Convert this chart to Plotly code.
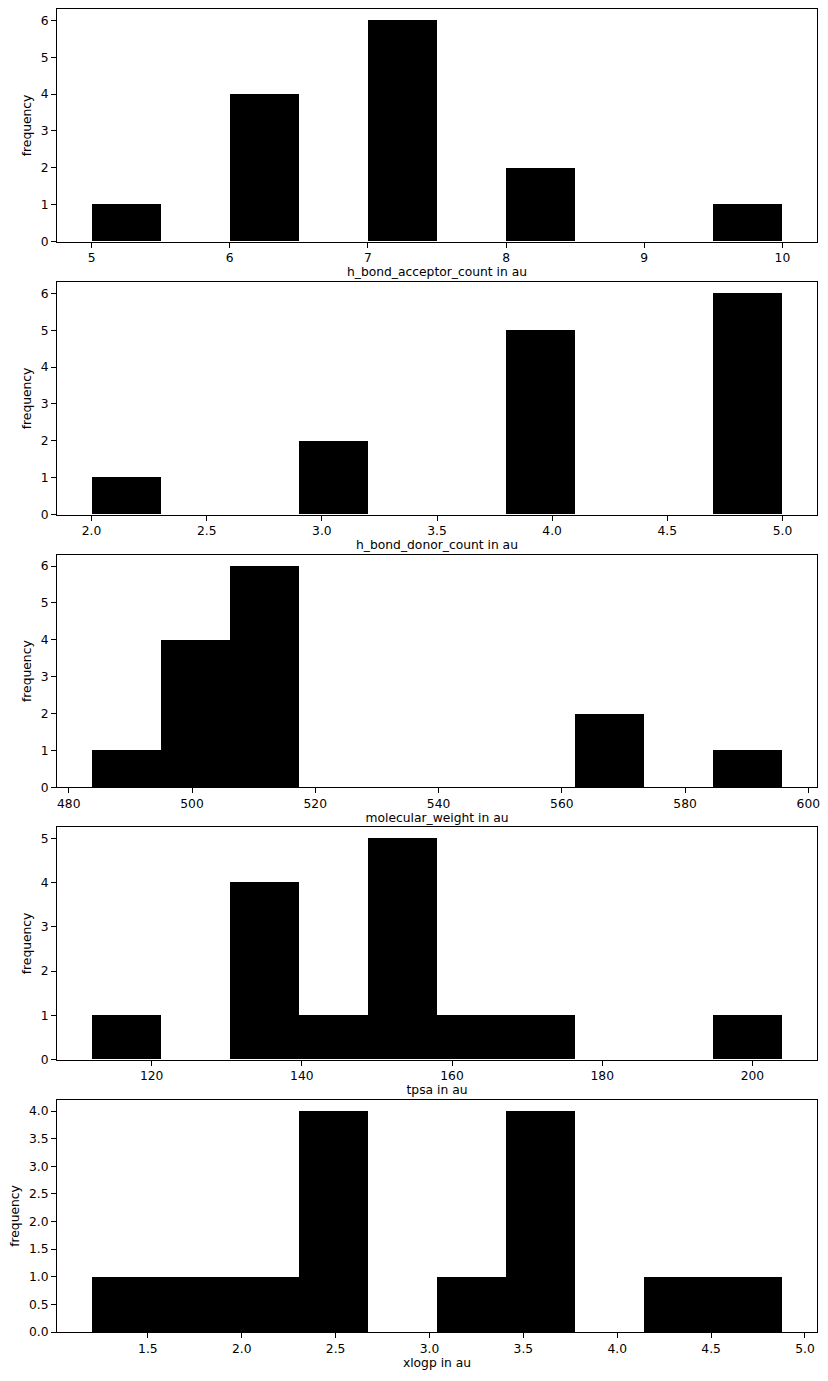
import plotly.graph_objects as go

# ---- data (bin edges and counts) ----
acceptor_edges = [5.0, 5.5, 6.0, 6.5, 7.0, 7.5, 8.0, 8.5, 9.0, 9.5, 10.0]
acceptor_counts = [1, 0, 4, 0, 6, 0, 2, 0, 0, 1]

donor_edges = [2.0, 2.3, 2.6, 2.9, 3.2, 3.5, 3.8, 4.1, 4.4, 4.7, 5.0]
donor_counts = [1, 0, 0, 2, 0, 0, 5, 0, 0, 6]

mw_edges = [483.7, 494.9, 506.1, 517.3, 528.5, 539.8, 551.0, 562.2, 573.4, 584.6, 595.8]
mw_counts = [1, 4, 6, 0, 0, 0, 0, 2, 0, 1]

tpsa_edges = [112.0, 121.2, 130.4, 139.6, 148.8, 158.0, 167.2, 176.4, 185.6, 194.8, 204.0]
tpsa_counts = [1, 0, 4, 1, 5, 1, 1, 0, 0, 1]

xlogp_edges = [1.2, 1.568, 1.936, 2.304, 2.672, 3.04, 3.408, 3.776, 4.144, 4.512, 4.88]
xlogp_counts = [1, 1, 1, 4, 0, 1, 4, 0, 1, 1]

x_titles = ["h_bond_acceptor_count in au", "h_bond_donor_count in au",
            "molecular_weight in au", "tpsa in au", "xlogp in au"]
y_title = "frequency"

panels = [
    (acceptor_edges, acceptor_counts, dict(dtick=1, tickformat="d"), dict(dtick=1, tickformat="d")),
    (donor_edges, donor_counts, dict(dtick=0.5, tickformat=".1f"), dict(dtick=1, tickformat="d")),
    (mw_edges, mw_counts, dict(dtick=20, tickformat="d"), dict(dtick=1, tickformat="d")),
    (tpsa_edges, tpsa_counts, dict(dtick=20, tickformat="d"), dict(dtick=1, tickformat="d")),
    (xlogp_edges, xlogp_counts, dict(dtick=0.5, tickformat=".1f"), dict(dtick=0.5, tickformat=".1f")),
]

W, H = 828, 1381
mt, mb = 9, 49
plot_h = H - mt - mb
ax_h = 232.3
tops_px = [9.3, 282.3, 555.0, 827.3, 1100.0]

font = dict(family="DejaVu Sans", size=12.3, color="black")

fig = go.Figure()
layout = dict(
    width=W, height=H,
    margin=dict(l=57, r=11, t=mt, b=mb),
    paper_bgcolor="white", plot_bgcolor="white",
    showlegend=False, font=font, bargap=0,
)

for i, (edges, counts, xt, yt) in enumerate(panels):
    n = i + 1
    xa = "x" if n == 1 else f"x{n}"
    ya = "y" if n == 1 else f"y{n}"
    lefts = edges[:-1]
    widths = [edges[k + 1] - edges[k] for k in range(len(edges) - 1)]
    fig.add_trace(go.Bar(
        x=lefts, y=counts, width=widths, offset=0,
        marker=dict(color="black", line=dict(width=0)),
        xaxis=xa, yaxis=ya, hoverinfo="x+y",
    ))
    span = edges[-1] - edges[0]
    top_px = tops_px[i]
    bot_px = top_px + ax_h
    d0 = (H - mb - bot_px) / plot_h
    d1 = (H - mb - top_px) / plot_h
    common = dict(showline=True, mirror=True, linecolor="black", linewidth=1,
                  ticks="outside", ticklen=5, tickwidth=1, tickcolor="black",
                  showgrid=False, zeroline=False, tickfont=font)
    layout["xaxis" if n == 1 else f"xaxis{n}"] = dict(
        anchor=ya, domain=[0, 1],
        range=[edges[0] - 0.05 * span, edges[-1] + 0.05 * span],
        tickmode="linear", tick0=0, title=dict(text=x_titles[i], font=font, standoff=3),
        **xt, **common)
    layout["yaxis" if n == 1 else f"yaxis{n}"] = dict(
        anchor=xa, domain=[max(d0, 0), min(d1, 1)],
        range=[0, max(counts) * 1.05],
        tickmode="linear", tick0=0, title=dict(text=y_title, font=font, standoff=6),
        **yt, **common)

fig.update_layout(**layout)
fig.write_html("out.html")
